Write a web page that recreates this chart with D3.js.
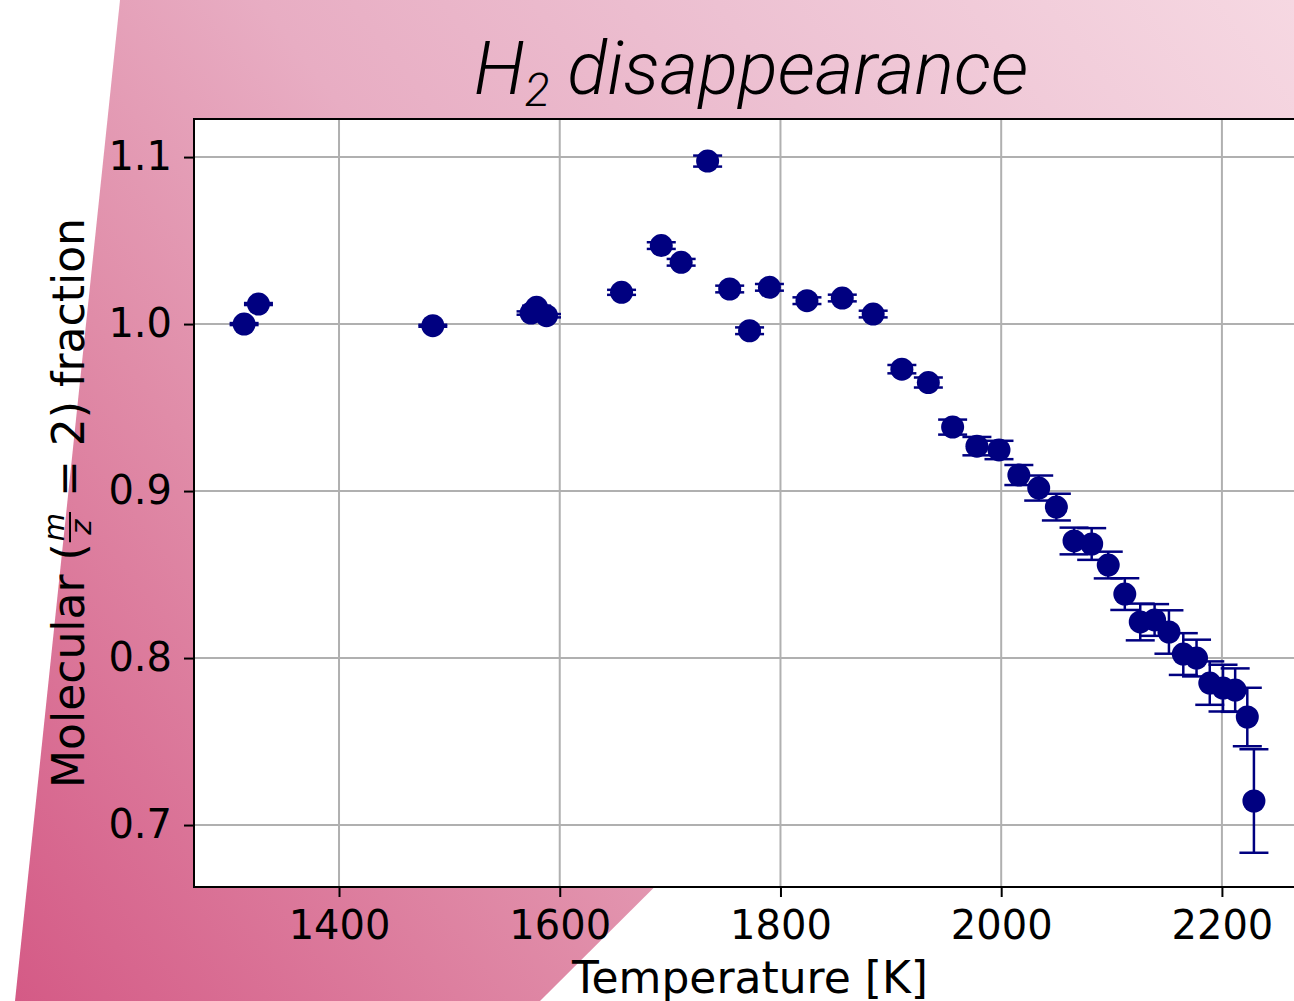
<!DOCTYPE html>
<html lang="en">
<head>
<meta charset="UTF-8">
<title>H2 disappearance</title>
<script src="https://d3js.org/d3.v7.min.js"></script>
<style>
    body{ margin:0; background:#fff; }
    svg{ display:block; }
    .tick text{ font-family:"DejaVu Sans",sans-serif; font-size:40px; fill:#000; }
    .axlabel{ font-family:"DejaVu Sans",sans-serif; font-size:44px; fill:#000; }
    .title{ font-family:Roboto,sans-serif; font-style:italic; font-weight:300; font-size:74px; fill:#000; }
</style>
</head>
<body>
<svg id="fig" width="1294" height="1001"></svg>
<script>
// data
const temperature = [1314, 1327, 1485, 1574, 1579, 1588, 1656, 1692, 1710, 1734,
    1754, 1772, 1790, 1824, 1856, 1884, 1910, 1934, 1956, 1978,
    1998, 2016, 2034, 2050, 2066, 2082, 2097, 2112, 2126, 2139,
    2152, 2165, 2177, 2189, 2201, 2212, 2223, 2229];
const fraction = [1.000, 1.012, 0.999, 1.0066, 1.010, 1.005, 1.019, 1.047, 1.037, 1.0976,
    1.021, 0.996, 1.022, 1.014, 1.0156, 1.006, 0.973, 0.965, 0.9383, 0.9269,
    0.9246, 0.9096, 0.9018, 0.8904, 0.8701, 0.8683, 0.8557, 0.8383, 0.8216, 0.8228,
    0.8156, 0.8024, 0.8000, 0.7850, 0.7820, 0.7808, 0.7647, 0.7144];
const fractionErr = [0.0006, 0.0006, 0.0006, 0.001, 0.001, 0.001, 0.0015, 0.002, 0.002, 0.0033,
    0.002, 0.002, 0.002, 0.002, 0.002, 0.002, 0.0025, 0.003, 0.0045, 0.0055,
    0.0055, 0.006, 0.0075, 0.008, 0.008, 0.0095, 0.008, 0.0095, 0.011, 0.0095,
    0.013, 0.0125, 0.011, 0.013, 0.014, 0.013, 0.0175, 0.031];
const xTicks = [1400, 1600, 1800, 2000, 2200];
const yTicks = [0.7, 0.8, 0.9, 1.0, 1.1];

const svg = d3.select("#fig");
const W = 1294, H = 1001;
const box = {l: 194, r: 1308, t: 119, b: 887};

// background: pink gradient shape
const defs = svg.append("defs");
const grad = defs.append("linearGradient")
    .attr("id", "bg")
    .attr("gradientUnits", "userSpaceOnUse")
    .attr("x1", 0).attr("y1", H).attr("x2", W).attr("y2", 0);
[[0, "#d45985"], [0.3, "#e08ca8"], [0.5, "#e8adc3"], [0.72, "#edc1d2"], [1, "#f6d8e2"]]
    .forEach(s => grad.append("stop").attr("offset", s[0]).attr("stop-color", s[1]));
svg.append("rect").attr("width", W).attr("height", H).attr("fill", "#fff");
svg.append("polygon")
    .attr("points", [[120, 0], [W, 0], [W, 250], [540, H], [15, H]].map(p => p.join(",")).join(" "))
    .attr("fill", "url(#bg)");

// scales
const x = d3.scaleLinear().domain([1268.6, 2278]).range([box.l, box.r]);
const y = d3.scaleLinear().domain([0.6629, 1.1228]).range([box.b, box.t]);

svg.append("rect").attr("x", box.l).attr("y", box.t)
    .attr("width", box.r - box.l).attr("height", box.b - box.t).attr("fill", "#fff");

// grid
const grid = svg.append("g").attr("stroke", "#b0b0b0").attr("stroke-width", 2);
grid.selectAll(".gx").data(xTicks).join("line")
    .attr("x1", d => x(d)).attr("x2", d => x(d)).attr("y1", box.t).attr("y2", box.b);
grid.selectAll(".gy").data(yTicks).join("line")
    .attr("y1", d => y(d)).attr("y2", d => y(d)).attr("x1", box.l).attr("x2", box.r);

// axes
const xAxis = svg.append("g").attr("transform", `translate(0,${box.b})`)
    .call(d3.axisBottom(x).tickValues(xTicks).tickSize(10).tickPadding(14).tickFormat(d3.format("d")));
const yAxis = svg.append("g").attr("transform", `translate(${box.l},0)`)
    .call(d3.axisLeft(y).tickValues(yTicks).tickSize(10).tickPadding(12).tickFormat(d3.format(".1f")));
[xAxis, yAxis].forEach(a => {
    a.select(".domain").remove();
    a.selectAll(".tick line").attr("stroke", "#000").attr("stroke-width", 2);
});

// spines
svg.append("rect").attr("x", box.l).attr("y", box.t)
    .attr("width", box.r - box.l).attr("height", box.b - box.t)
    .attr("fill", "none").attr("stroke", "#000").attr("stroke-width", 2);

// error bars + markers
const pts = temperature.map((t, i) => ({t: t, v: fraction[i], e: fractionErr[i]}));
const navy = "#000080";
const eb = svg.append("g").attr("stroke", navy).attr("stroke-width", 2.5);
pts.forEach(p => {
    const cx = x(p.t);
    eb.append("line").attr("x1", cx).attr("x2", cx).attr("y1", y(p.v - p.e)).attr("y2", y(p.v + p.e));
    [p.v - p.e, p.v + p.e].forEach(c => {
        eb.append("line").attr("x1", cx - 14.5).attr("x2", cx + 14.5).attr("y1", y(c)).attr("y2", y(c));
    });
});
svg.append("g").selectAll("circle").data(pts).join("circle")
    .attr("cx", d => x(d.t)).attr("cy", d => y(d.v)).attr("r", 11.5).attr("fill", navy);

// x label
svg.append("text").attr("class", "axlabel")
    .attr("x", 750).attr("y", 993)
    .attr("text-anchor", "middle").text("Temperature [K]");

// y label with m/z fraction
const yl = svg.append("g").attr("transform", `translate(84,${(box.t + box.b) / 2}) rotate(-90)`);
const g = yl.append("g");
const p1 = g.append("text").attr("class", "axlabel").attr("x", 0).text("Molecular (");
let cur = p1.node().getComputedTextLength();
const fm = g.append("text").attr("class", "axlabel").style("font-size", "29px").style("font-style", "italic")
    .attr("y", -20).text("m");
const fz = g.append("text").attr("class", "axlabel").style("font-size", "29px").style("font-style", "italic")
    .attr("y", 7).text("z");
const wm = fm.node().getComputedTextLength(), wz = fz.node().getComputedTextLength();
const fw = Math.max(wm, wz) + 4;
fm.attr("x", cur + (fw - wm) / 2);
fz.attr("x", cur + (fw - wz) / 2);
g.append("line").attr("x1", cur + 1).attr("x2", cur + fw - 1).attr("y1", -14).attr("y2", -14)
    .attr("stroke", "#000").attr("stroke-width", 2);
cur += fw;
const p2 = g.append("text").attr("class", "axlabel").attr("x", cur).text("\u00a0= 2) fraction");
cur += p2.node().getComputedTextLength();
g.attr("transform", `translate(${-cur / 2},0)`);

// title
const title = svg.append("text").attr("class", "title")
    .attr("x", 751).attr("y", 94).attr("text-anchor", "middle");
title.append("tspan").text("H");
title.append("tspan").style("font-size", "46px").attr("dy", 12).text("2");
title.append("tspan").attr("dy", -12).text(" disappearance");
</script>
</body>
</html>
